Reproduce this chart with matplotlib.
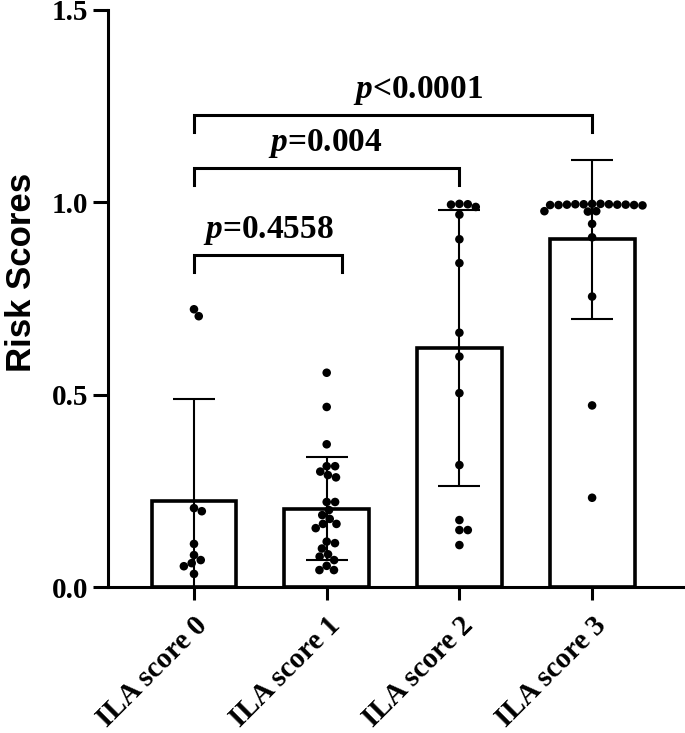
import numpy as np
import matplotlib
matplotlib.use("Agg")
import matplotlib.pyplot as plt

plt.rcParams['mathtext.fontset'] = 'custom'
plt.rcParams['mathtext.it'] = 'Liberation Serif:italic:bold'
plt.rcParams['mathtext.rm'] = 'Liberation Serif:bold'

# data
groups = ["ILA score 0", "ILA score 1", "ILA score 2", "ILA score 3"]
means = [0.224, 0.203, 0.622, 0.904]
sds = [0.265, 0.134, 0.359, 0.207]

score0 = [0.722, 0.704, 0.205, 0.197, 0.112, 0.083, 0.070, 0.062, 0.054, 0.034]
score1 = [0.557, 0.468, 0.371, 0.314, 0.314, 0.300, 0.291, 0.285, 0.221, 0.221,
          0.200, 0.187, 0.177, 0.164, 0.164, 0.153, 0.118, 0.114, 0.100, 0.085,
          0.079, 0.070, 0.055, 0.044, 0.044]
score2 = [0.996, 0.995, 0.994, 0.988, 0.968, 0.904, 0.842, 0.661, 0.599, 0.504,
          0.317, 0.174, 0.148, 0.148, 0.109]
score3 = [0.996, 0.996, 0.995, 0.995, 0.995, 0.994, 0.994, 0.994, 0.993, 0.993,
          0.993, 0.992, 0.977, 0.977, 0.976, 0.944, 0.909, 0.755, 0.472, 0.232]
points = [score0, score1, score2, score3]

# comparisons: (from, to, label)
comparisons = [(0, 1.115, r'$p$=0.4558'), (0, 2, r'$p$=0.004'), (0, 3, r'$p$<0.0001')]
bracket_y = [0.864, 1.090, 1.228]
label_x = [0.56, 0.99, 1.69]

W, H = 685, 733
fig = plt.figure(figsize=(W / 100, H / 100), dpi=100)
ax = fig.add_axes([108 / W, 146 / H, (W - 108) / W, 577 / H])

x = np.arange(len(groups))
ax.set_xlim(-0.648, 3.70)
ax.set_ylim(0, 1.5)

ax.bar(x, means, width=0.64, color='white', edgecolor='black', linewidth=2.6, zorder=2)
ax.errorbar(x, means, yerr=sds, fmt='none', ecolor='black', elinewidth=1.5,
            capsize=15, capthick=1.5, zorder=3)


def swarm(vals, center, d=8.4):
    t = ax.transData
    ppx = t.transform((1, 0))[0] - t.transform((0, 0))[0]
    placed = []
    offs = {}
    order = np.argsort(vals)[::-1]
    for i in order:
        y = t.transform((center, vals[i]))[1]
        cands = [0.0]
        for (px, py) in placed:
            dy = abs(y - py)
            if dy < d:
                dx = np.sqrt(d * d - dy * dy)
                cands += [px + dx, px - dx]
        cands.sort(key=abs)
        for c in cands:
            if all((c - px) ** 2 + (y - py) ** 2 >= d * d - 1e-6 for px, py in placed):
                placed.append((c, y))
                offs[i] = c / ppx
                break
    return np.array([center + offs[i] for i in range(len(vals))])


for i, vals in enumerate(points):
    xs = swarm(vals, x[i])
    ax.scatter(xs, vals, s=38, color='black', edgecolors='none', zorder=5, clip_on=False)

for (a, b, lab), yb, lx in zip(comparisons, bracket_y, label_x):
    ax.plot([a, a, b, b], [yb - 0.046, yb, yb, yb - 0.046], color='black', lw=2.2,
            solid_joinstyle='miter', clip_on=False, zorder=4)
    ax.text(lx, yb + 0.02, lab, ha='center', va='bottom', fontsize=24,
            family='Liberation Serif', fontweight='bold')

for s in ['top', 'right']:
    ax.spines[s].set_visible(False)
for s in ['left', 'bottom']:
    ax.spines[s].set_linewidth(2.2)

ax.set_yticks([0, 0.5, 1.0, 1.5])
ax.set_yticklabels(['0.0', '0.5', '1.0', '1.5'])
ax.tick_params(axis='y', length=11, width=2.2, pad=3)
ax.tick_params(axis='x', length=9, width=2.2, pad=9)
for lab in ax.get_yticklabels():
    lab.set_family('Liberation Serif')
    lab.set_fontweight('bold')
    lab.set_fontsize(21)

ax.set_xticks(x)
ax.set_xticklabels(groups, rotation=45, ha='right', rotation_mode='anchor',
                   family='Liberation Serif', fontweight='bold', fontsize=21)

fig.text(22 / W, 1 - 272 / H, 'Risk Scores', rotation=90, ha='center', va='center',
         family='Liberation Sans', fontweight='bold', fontsize=25)

fig.savefig('out.png', dpi=100)
